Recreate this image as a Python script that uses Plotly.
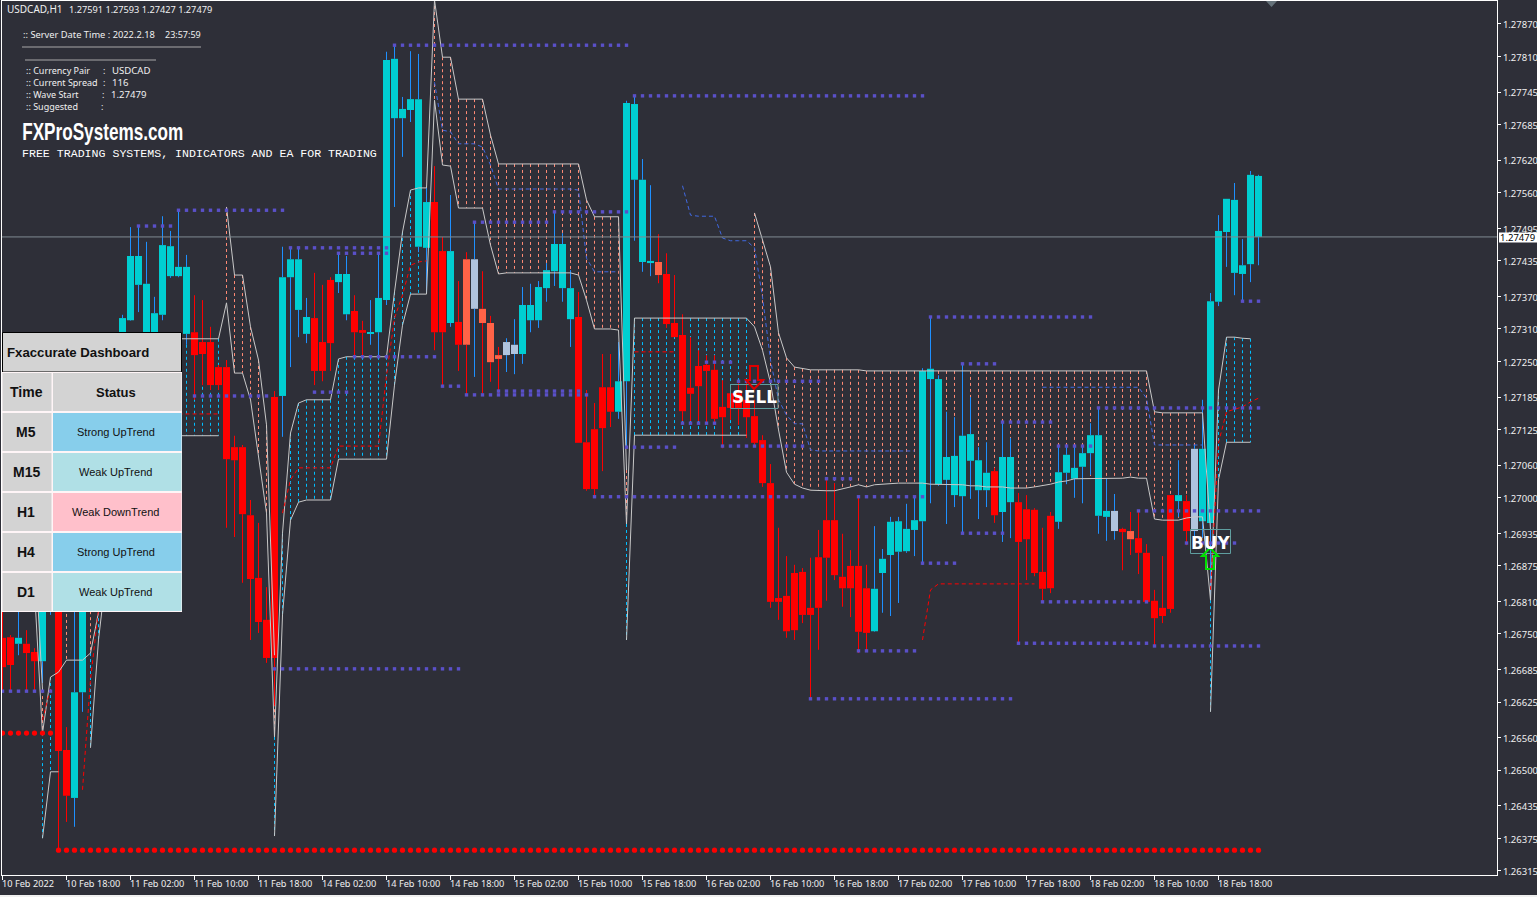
import plotly.graph_objects as go

BG = "#2E2F38"
W, H = 1537, 897
PL, PR, PT, PB = 2, 1497, 1, 875

KINDS = list(
    "dduddu" "uddu" "uuudu" "uuuuuuuuu" "ddddddddddd" "uuuu" "ddd" "uu" "dd" "uuuuuuuu" "dd" "u" "d"
    "tstttss" "uuuuuuu" "ddddd" "uu" "uuu" "t" + "d" * 26 + "u" * 15 + "d" + "uu" + "ddddd" + "uuuuuuu" + "sdt" + "ddddd" + "udsuuuuuuuu"
)
OPEN = [126743,126744,126732,126732,126717,126700,126886,127033,126537,126449,126643,126886,127033,127125,127051,127235,127326,127391,127253,127253,
127336,127407,127407,127301,127304,127286,127286,127240,127240,127093,127093,126968,126853,126776,127185,127187,127405,127345,127301,127330,
127286,127400,127396,127337,127343,127308,127301,127304,127363,127697,127697,127712,127461,127459,127543,127453,127321,127323,127438,127347,
127347,127321,127262,127262,127264,127264,127326,127326,127385,127416,127385,127328,127332,127102,127126,127203,127203,127158,127214,127584,
127433,127431,127433,127411,127321,127299,127202,127242,127244,127235,127167,127192,127192,127180,127150,127106,127027,126816,126820,126862,
126864,126798,126891,126959,126959,126855,126875,126875,126834,126755,126862,126895,126901,126902,126941,126957,127218,127025,127033,127005,
127003,127068,127014,127014,127049,126974,126992,126992,126979,126978,126864,126967,126956,127046,127035,127057,127082,126967,126965,126939,
126943,126939,126926,126899,126811,126798,127005,126994,126994,126939,126957,126954,127360,127488,127413,127411,127429,127591]
CLOSE = [126689,126693,126743,126715,126700,126886,127033,126535,126453,126643,126886,127033,127125,127051,127235,127330,127444,127444,127393,127339,
127464,127462,127424,127424,127262,127264,127207,127207,127071,127069,126970,126851,126772,126706,126706,127405,127438,127438,127332,127233,
127233,127284,127411,127411,127304,127303,127304,127367,127804,127806,127714,127732,127732,127543,127304,127304,127453,127281,127281,127438,
127321,127249,127255,127286,127281,127354,127354,127387,127418,127466,127466,127385,127101,127016,127016,127128,127158,127214,127725,127723,
127584,127435,127409,127319,127295,127159,127191,127205,127233,127145,127148,127165,127165,127148,127101,127027,126809,126809,126755,126757,
126785,126785,126798,126890,126858,126834,126834,126754,126752,126833,126888,126956,126957,126943,126959,127233,127237,127218,127075,127077,
127114,127117,127069,127046,126968,127075,127075,126919,126924,126862,126833,126834,127047,127079,127055,127082,127115,127115,126976,126976,
126937,126924,126899,126809,126779,126783,126796,127005,126939,127090,127090,127361,127490,127549,127547,127427,127593,127479]
HIGH = [126812,126748,126812,126757,126724,126904,127051,127106,126579,126812,126904,127051,127143,127143,127271,127336,127497,127497,127470,127369,
127517,127490,127528,127446,127372,127363,127314,127244,127253,127114,127097,126996,126954,126836,127196,127461,127461,127461,127367,127413,
127391,127405,127449,127444,127372,127325,127363,127451,127819,127831,127736,127820,127815,127569,127609,127479,127556,127398,127451,127506,
127416,127334,127277,127293,127328,127387,127393,127398,127431,127525,127486,127418,127378,127198,127174,127264,127264,127286,127729,127736,
127622,127574,127484,127449,127409,127337,127295,127271,127262,127262,127216,127207,127214,127216,127180,127115,127062,126945,126893,126877,
126871,126890,126941,127036,127027,126934,126904,127002,126877,126948,126906,126965,126965,126989,127002,127238,127334,127225,127158,127148,
127246,127185,127093,127102,127055,127139,127110,127009,127005,126981,126945,126974,127095,127095,127095,127095,127137,127165,127035,127007,
126945,126974,126974,126915,126831,126893,127005,127069,127005,127097,127180,127376,127519,127549,127578,127475,127600,127593]
LOW = [126647,126647,126711,126647,126647,126660,126785,126353,126405,126396,126607,126867,127014,127033,127033,127216,127325,127341,127235,127235,
127326,127404,127405,127281,127180,127207,127198,127198,126945,126928,126844,126739,126752,126697,126618,127112,127240,127295,127284,127207,
127214,127233,127376,127326,127259,127259,127281,127262,127354,127534,127626,127690,127451,127376,127271,127203,127314,127233,127189,127222,
127192,127213,127192,127231,127227,127246,127304,127312,127360,127389,127360,127277,127101,127013,127002,127049,127130,127145,127091,127472,
127415,127407,127394,127312,127295,127141,127141,127141,127137,127137,127091,127143,127134,127110,127095,127020,126798,126776,126743,126739,
126770,126629,126721,126811,126849,126800,126781,126715,126719,126754,126789,126783,126807,126899,126893,126877,126990,127022,126952,126983,
126934,126998,126961,126983,126954,126919,126926,126733,126849,126856,126809,126825,126943,127025,127000,126990,127042,126934,126921,126923,
126867,126895,126860,126809,126728,126770,126789,126965,126913,126930,126926,126812,127352,127424,127372,127360,127396,127427]

SALMON_STARTS = [3, 7, 27, 53, 93]
SALMON_TOPS = [
    [127033,126923,126647],
    [None,126886,126886,126886,126913],
    [None,127534,127409,127409,127314,127253,127134,126711],
    [127569,127914,127809,127809,127732,127732,127732,127732,127666,127613,127613,127613,127613,127613,127613,127613,127613,127613,127613,127613,127547,127516,127516,127516,127516,127051],
    [None,127523,127473,127424,127303,127257,127240,127237,127235,127235,127235,127235,127235,127235,127235]
    + [127233,127233,127233,127233,127233,127233,127233,127233,127233,127233,127233,127233,127233,127233,127233,127233,127233,127233,
       127233,127233,127233,127233,127233,127233,127233,127233,127233,127233,127233,127233,127233,127233,127233,127233,127233,127233]
    + [127158,127156,127156,127156,127156,127156,127156,126941],
]
SALMON_BOTS = [
    [126923,126831,126565],
    [126680,126702,126702,126702,126715],
    [127292,127358,127229,127229,127180,127075,126972,126561],
    [127374,127730,127611,127609,127532,127532,127532,127532,127464,127411,127413,127413,127413,127413,127413,127413,127413,127413,127413,127409,127363,127310,127310,127310,127308,126952],
    [127330,127314,127271,127211,127125,127047,127025,127018,127014,127013,127013,127013,127016,127020,127024,127020,127024,127025,127027,
     127027,127027,127027,127027,127025,127025,127025,127024,127024,127022,127022,127020,127020,127020,127018,127018,127018,127020,127022,
     127025,127029,127031,127035,127035,127035,127035,127035,127035,127036,127038,127036,127036,126961,126959,126959,126959,126963,126965,126965,126812],
]
CYAN_STARTS = [5, 11, 22, 34, 78, 151]
CYAN_TOPS = [
    [126568,126671,126680],
    [126715,126790,126886],
    [127292,127292,127292,127292,127292,127292],
    [126561,126935,127119,127174,127180,127180,127180,127180,127255,127259,127259,127259,127259,127259,127259,127378,127488,127565,127569,127569],
    [126952,127330,127330,127330,127330,127330,127330,127330,127330,127330,127330,127330,127330,127330,127330,127330],
    [126812,127198,127295,127295,127293,127292],
]
CYAN_BOTS = [
    [126375,126497,126497],
    [126541,126739,126867],
    [127114,127114,127114,127114,127114,127114],
    [126379,126785,126959,126992,126996,126996,126996,126996,127071,127071,127071,127071,127071,127071,127071,127207,127317,127374,127374,127374],
    [126739,127115,127115,127115,127115,127115,127115,127115,127115,127115,127115,127115,127115,127115,127115,127115],
    [126607,127033,127102,127102,127102,127102],
]

BLUE_STARTS = [54, 85, 130]
BLUE_VALUES = [
    [127763,127675,127672,127650,127650,127650,127644,127611,127567,127567,127567,127567,127567,127567,127567,127567,127567,127567,127565,127440,127415,127415,127415,127415],
    [127573,127519,127517,127517,127517,127477,127472,127472,127472,127459,127369,127253,127180,127152,127136,127136,127088,127086,127086,127086,127086,127086,127086,127086,127086,127086,127086,127086,127086,127086],
    [127203,127203,127203,127203,127203,127203,127203,127203,127203,127203,127203,127203,127203,127183,127097,127097,127097,127097,127097,127097,127097],
]
RED_STARTS = [5, 10, 22, 35, 79, 115, 151]
RED_VALUES = [
    [126592,126651],
    [126464,126666,126794,126886],
    [127154,127154,127154,127154,127154,127154],
    [126972,127033,127055,127055,127055,127055,127055,127095,127095,127095,127095,127095,127095,127225,127330,127372,127427,127433,127435],
    [127268,127268,127268,127268,127268,127268],
    [126739,126831,126842,126842,126842,126842,126842,126842,126842,126842,126842,126842,126842,126842,126842],
    [126831,127101,127158,127163,127167,127176,127183],
]

LEVEL_PRICE = [127499,127528,127459,127449,127831,127738,126645,126686,127187,127194,127259,127506,127525,127205,127189,127196,127002,127093,127137,127249,
               127095,127214,127035,127246,127139,127095,127165,127002,126719,126880,126935,126976,126809,126733,126728,126631,127361,126917,127332]
LEVEL_FROM = [17,22,36,42,49,79,0,34,24,39,44,59,69,55,58,62,74,78,85,88,90,92,103,120,125,132,137,107,107,115,120,142,130,127,144,101,155,148,116]
LEVEL_TO = [21,35,48,48,78,115,6,57,33,43,54,68,78,57,73,72,100,84,89,91,100,102,106,124,131,136,157,115,114,119,125,157,143,143,157,126,157,154,136]
RED_LEVEL_PRICE = [126353, 126568]
RED_LEVEL_FROM = [7, 0]
RED_LEVEL_TO = [157, 6]

LAST_PRICE = 127479
TICK_PRICES = ["1.27870","1.27810","1.27745","1.27685","1.27620","1.27560","1.27495","1.27435","1.27370","1.27310","1.27250","1.27185","1.27125",
               "1.27060","1.27000","1.26935","1.26875","1.26810","1.26750","1.26685","1.26625","1.26560","1.26500","1.26435","1.26375","1.26315"]
DATE_LABELS = ["10 Feb 2022","10 Feb 18:00","11 Feb 02:00","11 Feb 10:00","11 Feb 18:00","14 Feb 02:00","14 Feb 10:00","14 Feb 18:00","15 Feb 02:00","15 Feb 10:00",
               "15 Feb 18:00","16 Feb 02:00","16 Feb 10:00","16 Feb 18:00","17 Feb 02:00","17 Feb 10:00","17 Feb 18:00","18 Feb 02:00","18 Feb 10:00","18 Feb 18:00"]
DATE_BARS = [0,8,16,24,32,40,48,56,64,72,80,88,96,104,112,120,128,136,144,152]
DASH_TIME = ["Time","M5","M15","H1","H4","D1"]
DASH_STATUS = ["Status","Strong UpTrend","Weak UpTrend","Weak DownTrend","Strong UpTrend","Weak UpTrend"]
DASH_FILL = ["#D3D3D3","#87CEEB","#B0E0E6","#FFC0CB","#87CEEB","#B0E0E6"]


def pr(v):
    return None if v is None else v / 1e5


def fx(px):
    return (px - PL) / (PR - PL)


def fy(py):
    return 1 - (py - PT) / (PB - PT)


fig = go.Figure()
n = len(OPEN)
shapes = []
annots = []

for starts, tops, bots, col in [(SALMON_STARTS, SALMON_TOPS, SALMON_BOTS, "#FF8A75"), (CYAN_STARTS, CYAN_TOPS, CYAN_BOTS, "#00BFFF")]:
    for s, t, b in zip(starts, tops, bots):
        for k, (tv, bv) in enumerate(zip(t, b)):
            if tv is None or bv is None:
                continue
            shapes.append(dict(type="line", xref="x", yref="y", layer="below", x0=s + k, x1=s + k, y0=pr(tv), y1=pr(bv),
                               line=dict(color=col, width=1, dash="3px,3px")))

COLORS = {"u": "#00CED1", "d": "#FF0000", "t": "#FF6347", "s": "#B0C4DE"}
for kind, col in COLORS.items():
    idx = [i for i in range(n) if KINDS[i] == kind]
    fig.add_trace(go.Bar(x=idx, y=[abs(OPEN[i] - CLOSE[i]) / 1e5 for i in idx], base=[min(OPEN[i], CLOSE[i]) / 1e5 for i in idx],
                         width=0.875, marker=dict(color=col, line=dict(width=0)), showlegend=False))

for group, col in [("dt", "#FF0000"), ("us", "#1E90FF")]:
    xs, ys = [], []
    for i in range(n):
        if KINDS[i] in group:
            xs += [i, i, None, i, i, None]
            ys += [pr(HIGH[i]), pr(max(OPEN[i], CLOSE[i])), None, pr(min(OPEN[i], CLOSE[i])), pr(LOW[i]), None]
    fig.add_trace(go.Scatter(x=xs, y=ys, mode="lines", line=dict(color=col, width=1), showlegend=False))

xs, ys = [], []
for starts, tops, bots in [(SALMON_STARTS, SALMON_TOPS, SALMON_BOTS), (CYAN_STARTS, CYAN_TOPS, CYAN_BOTS)]:
    for s, t, b in zip(starts, tops, bots):
        for series in (t, b):
            for k, v in enumerate(series):
                xs.append(s + k)
                ys.append(pr(v))
            xs.append(None)
            ys.append(None)
fig.add_trace(go.Scatter(x=xs, y=ys, mode="lines", line=dict(color="#C8C8C8", width=1), showlegend=False))

for starts, vals, col, dash in [(BLUE_STARTS, BLUE_VALUES, "#4169E1", "4px,3px"), (RED_STARTS, RED_VALUES, "#FF0000", "4px,3px")]:
    xs, ys = [], []
    for s, v in zip(starts, vals):
        for k, p in enumerate(v):
            xs.append(s + k)
            ys.append(pr(p))
        xs.append(None)
        ys.append(None)
    fig.add_trace(go.Scatter(x=xs, y=ys, mode="lines", line=dict(color=col, width=1, dash=dash), showlegend=False))

xs, ys = [], []
for p, a, b in zip(LEVEL_PRICE, LEVEL_FROM, LEVEL_TO):
    for i in range(a, b + 1):
        xs.append(i)
        ys.append(pr(p))
fig.add_trace(go.Scatter(x=xs, y=ys, mode="markers", marker=dict(symbol="square", size=3.4, color="#5A50C8", line=dict(width=0)), showlegend=False))
xs, ys = [], []
for p, a, b in zip(RED_LEVEL_PRICE, RED_LEVEL_FROM, RED_LEVEL_TO):
    for i in range(a, b + 1):
        xs.append(i)
        ys.append(pr(p))
fig.add_trace(go.Scatter(x=xs, y=ys, mode="markers", marker=dict(symbol="circle", size=5.2, color="#FF0000", line=dict(width=0)), showlegend=False))

fig.add_trace(go.Scatter(x=[-1, 190], y=[pr(LAST_PRICE), pr(LAST_PRICE)], mode="lines", line=dict(color="#7F8A92", width=1), showlegend=False))


def text(px, py, s, size=9.5, color="#F0F0F0", family="Noto Sans", anchor="left", bold=False):
    font = dict(size=size, color=color, family=family)
    annots.append(dict(xref="paper", yref="paper", x=fx(px), y=fy(py), text=f"<b>{s}</b>" if bold else s, showarrow=False, xanchor=anchor, yanchor="middle",
                       font=font, borderpad=0))


def rect(x0, y0, x1, y1, fill=None, line=None, lw=1):
    shapes.append(dict(type="rect", xref="paper", yref="paper", x0=fx(x0), x1=fx(x1), y0=fy(y0), y1=fy(y1), layer="above",
                       fillcolor=fill if fill else "rgba(0,0,0,0)", line=dict(color=line if line else "rgba(0,0,0,0)", width=lw if line else 0)))


def path(points, color, fill=None, lw=2):
    d = "M " + " L ".join(f"{fx(a):.6f} {fy(b):.6f}" for a, b in points) + " Z"
    shapes.append(dict(type="path", xref="paper", yref="paper", path=d, layer="above", fillcolor=fill if fill else "rgba(0,0,0,0)",
                       line=dict(color=color, width=lw)))


text(6, 9.5, "USDCAD,H1", size=10)
text(68, 9.5, "1.27591 1.27593 1.27427 1.27479", size=9.2)
text(22, 35, ":: Server Date Time : 2022.2.18", size=9.3)
text(164, 35, "23:57:59", size=9)
for y0, x0, x1 in [(47, 22, 201), (60, 25, 156)]:
    shapes.append(dict(type="line", xref="paper", yref="paper", x0=fx(x0), x1=fx(x1), y0=fy(y0), y1=fy(y0), layer="above", line=dict(color="#A8A8A8", width=1)))
for y0, lab, cx, val, vx in [(71, ":: Currency Pair", 102, "USDCAD", 111), (82.6, ":: Current Spread", 102, "116", 111),
                             (95, ":: Wave Start", 101, "1.27479", 110), (107, ":: Suggested", 100, "", 110)]:
    text(25, y0, lab, size=9)
    text(cx, y0, ":", size=9)
    if val:
        text(vx, y0, val, size=9.6)
text(102.5, 131.5, "FXProSystems.com", size=24, color="#FFFFFF", family="Liberation Sans", anchor="center", bold=True)
text(21, 153, "FREE TRADING SYSTEMS, INDICATORS AND EA FOR TRADING", size=11.6, color="#FFFFFF", family="Liberation Mono")

rect(2.5, 332.5, 181.5, 372, "#D3D3D3", "#000000", 1)
text(5.5, 352.5, "Fxaccurate Dashboard", size=13.2, color="#111111", family="Liberation Sans", bold=True)
for r in range(6):
    top = 372 + 40 * r
    rect(2, top, 182, top + 40, "#FFF5F7")
    rect(2.5, top + 1, 51.5, top + 39, "#D3D3D3")
    rect(53, top + 1, 181.5, top + 39, DASH_FILL[r])
    text(26.5, top + 20, DASH_TIME[r], size=14, color="#111111", family="Liberation Sans", anchor="center", bold=True)
    text(115.5, top + 20, DASH_STATUS[r], size=13 if r == 0 else 11, color="#111111", family="Liberation Sans", anchor="center", bold=r == 0)

rect(730.5, 384.5, 778, 408.5, None, "#5F9EA0", 1)
path([(750, 366), (758, 366), (758, 380), (763, 380), (754, 389), (746, 380), (750, 380)], "#E00000", None, 2)
text(754, 397, "SELL", size=16.8, color="#FFFFFF", family="DejaVu Sans", anchor="center", bold=True)
rect(1190.5, 529.5, 1230.5, 553.5, None, "#5F9EA0", 1)
path([(1206, 569), (1214, 569), (1214, 556), (1218, 556), (1210, 548), (1202, 556), (1206, 556)], "#00E000", None, 2)
text(1210, 542.5, "BUY", size=16.8, color="#FFFFFF", family="DejaVu Sans", anchor="center", bold=True)

path([(1266, 1), (1277, 1), (1271.5, 7)], "#66727A", "#66727A", 0)
for k, lab in zip(DATE_BARS, DATE_LABELS):
    annots.append(dict(xref="x", yref="paper", x=k, y=fy(883), text=lab, showarrow=False, xanchor="left", yanchor="middle", xshift=-2,
                       font=dict(size=9.2, color="#F0F0F0", family="Noto Sans"), borderpad=0))
rect(1499, 232.5, 1537, 242.5, "#FFFFFF")
annots.append(dict(xref="paper", yref="y", x=fx(1518), y=pr(LAST_PRICE), text="1.27479", showarrow=False, xanchor="center", yanchor="middle", borderpad=0, yshift=-1,
                   font=dict(size=9.5, color="#000000", family="Noto Sans")))
shapes.append(dict(type="rect", xref="paper", yref="paper", x0=fx(0), x1=fx(W), y0=fy(895), y1=fy(897), layer="above", fillcolor="#F0F0F0", line=dict(width=0)))

CENTER0 = 2.5
fig.update_layout(
    width=W, height=H, autosize=False, barmode="overlay", hovermode=False, showlegend=False,
    margin=dict(l=PL, r=W - PR, t=PT, b=H - PB, pad=0, autoexpand=False),
    paper_bgcolor=BG, plot_bgcolor=BG, shapes=shapes, annotations=annots,
    xaxis=dict(range=[(PL - CENTER0) / 8, (PR - CENTER0) / 8], tickmode="array", tickvals=DATE_BARS, ticktext=[""] * len(DATE_BARS), ticks="outside", ticklen=4, tickwidth=1,
               tickcolor="#FFFFFF", showgrid=False, zeroline=False, showline=True, linecolor="#FFFFFF", linewidth=1, mirror=True, fixedrange=True),
    yaxis=dict(range=[(127914 - 1.836 * PB) / 1e5, (127914 - 1.836 * PT) / 1e5], side="right", tickmode="array", tickvals=[float(t) for t in TICK_PRICES], ticktext=TICK_PRICES,
               ticks="outside", ticklen=3, tickwidth=1, tickcolor="#FFFFFF", showgrid=False, zeroline=False, showline=True, linecolor="#FFFFFF", linewidth=1, mirror=True,
               ticklabelshift=1,
               tickfont=dict(size=9.5, color="#F0F0F0", family="Noto Sans"), fixedrange=True),
)
POST = """
document.body.style.margin='0';document.body.style.background='%s';document.body.style.overflow='hidden';
document.querySelectorAll('text').forEach(function(t){
  if(t.textContent==='FXProSystems.com'){t.setAttribute('textLength','161');t.setAttribute('lengthAdjust','spacingAndGlyphs');}
});
""" % BG
fig.write_html("out.html", config=dict(displayModeBar=False), post_script=POST)
